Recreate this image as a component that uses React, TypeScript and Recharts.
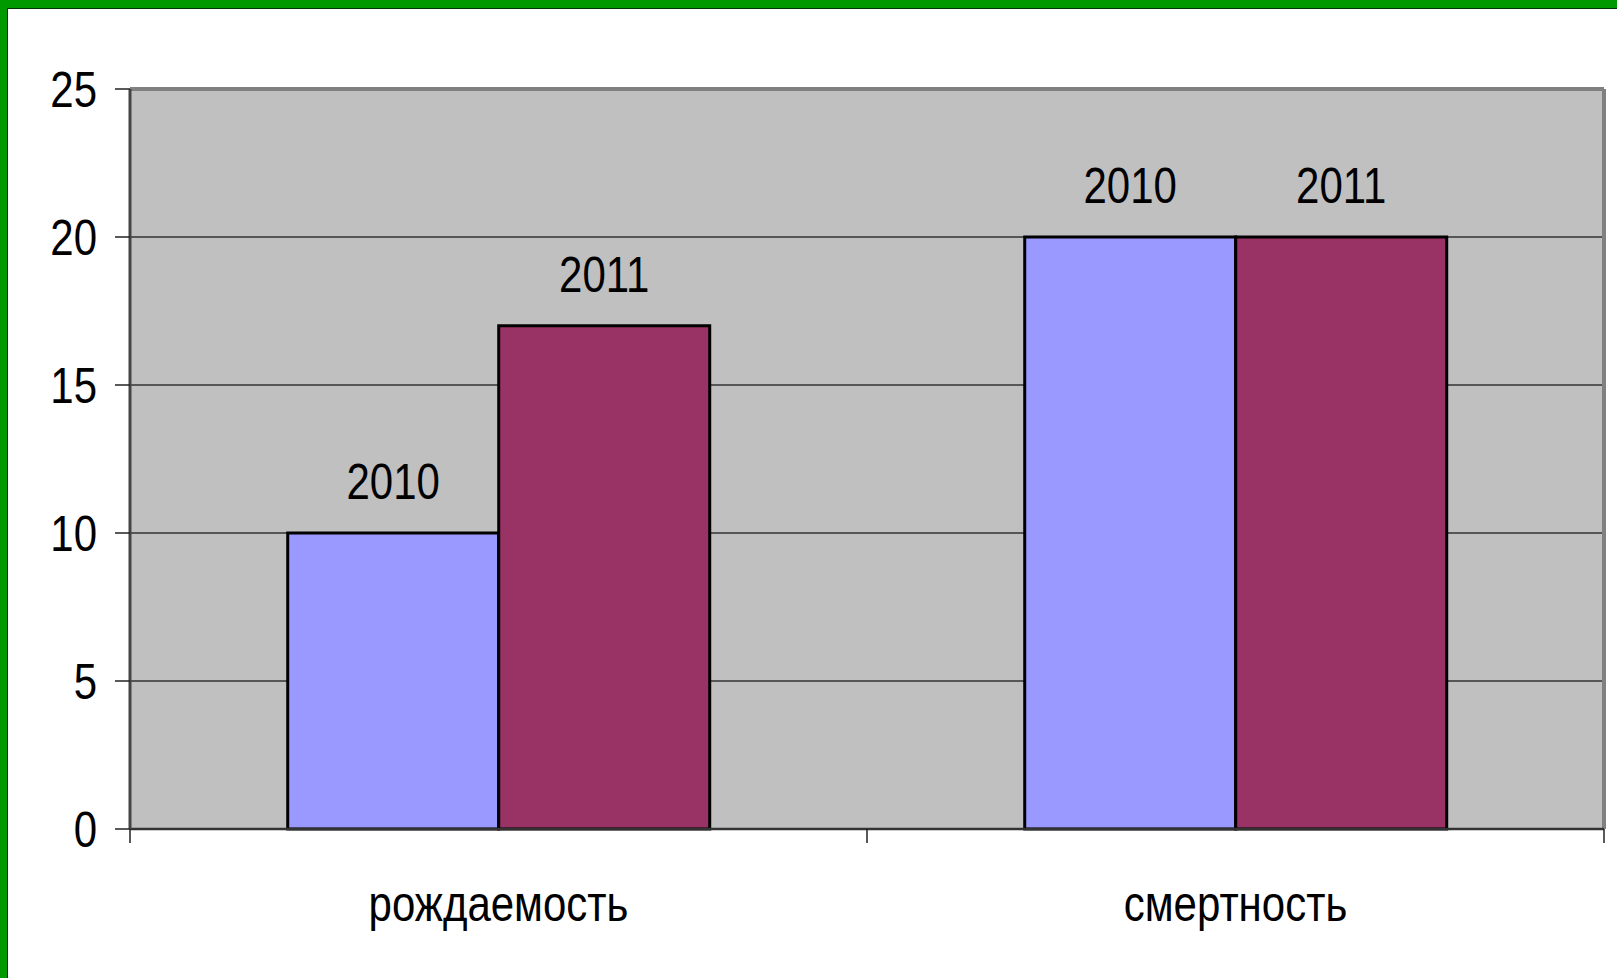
import React from "react";
import {
  BarChart,
  Bar,
  XAxis,
  YAxis,
  CartesianGrid,
  LabelList,
  ReferenceLine,
} from "recharts";

// categories and series
const categories = ["рождаемость", "смертность"];
const values2010 = [10, 20];
const values2011 = [17, 20];
const yTicks = [0, 5, 10, 15, 20, 25];

const data = categories.map((name, i) => ({
  name,
  y2010: values2010[i],
  y2011: values2011[i],
}));

const FONT = '"Liberation Sans", Arial, sans-serif';
// the original font is a condensed Arial, squeeze it horizontally
const SQUEEZE = 0.84;

const NarrowText = ({ x, y, anchor = "middle", children }: any) => (
  <text
    transform={`translate(${x},${y}) scale(${SQUEEZE},1)`}
    textAnchor={anchor}
    fontSize={50}
    fontFamily={FONT}
    fill="#000"
  >
    {children}
  </text>
);

const CategoryTick = (props: any) => {
  const { x, y, payload, index } = props;
  const half = payload && payload.offset ? payload.offset : 368.5;
  return (
    <g>
      {index === 0 && (
        <line x1={x - half} y1={y - 8} x2={x - half} y2={y + 6} stroke="#222" strokeWidth={1.5} />
      )}
      <line x1={x + half} y1={y - 8} x2={x + half} y2={y + 6} stroke="#222" strokeWidth={1.5} />
      <NarrowText x={x} y={y + 84}>{payload.value}</NarrowText>
    </g>
  );
};

const ValueTick = (props: any) => {
  const { x, y, payload } = props;
  return (
    <NarrowText x={x + 2} y={y + 18} anchor="end">
      {payload.value}
    </NarrowText>
  );
};

const seriesLabel = (name: string) => (props: any) => {
  const { x, y, width } = props;
  return (
    <NarrowText x={x + width / 2} y={y - 34}>
      {name}
    </NarrowText>
  );
};

export default function App() {
  return (
    <div
      style={{
        position: "fixed",
        left: 0,
        top: 0,
        width: 1617,
        height: 978,
        background: "#009900",
        overflow: "hidden",
      }}
    >
      <div
        style={{
          position: "absolute",
          left: 7,
          top: 8,
          right: 0,
          bottom: 0,
          background: "#fff",
          borderTop: "1px solid #003300",
          borderLeft: "1px solid #003300",
        }}
      />
      <div style={{ position: "absolute", left: 0, top: 0 }}>
        <BarChart
          width={1617}
          height={978}
          data={data}
          margin={{ top: 89, right: 13, bottom: 0, left: 0 }}
          barCategoryGap="21.4%"
          barGap={0}
        >
          <CartesianGrid
            vertical={false}
            fill="#C0C0C0"
            stroke="#333"
            strokeWidth={1.5}
            fillOpacity={1}
          />
          <XAxis
            dataKey="name"
            height={149}
            tickLine={false}
            axisLine={{ stroke: "#333", strokeWidth: 2.5 }}
            tick={<CategoryTick />}
            interval={0}
          />
          <YAxis
            width={130}
            domain={[0, 25]}
            ticks={yTicks}
            interval={0}
            tickSize={15}
            tickMargin={20}
            tickLine={{ stroke: "#222", strokeWidth: 1.5 }}
            axisLine={{ stroke: "#444", strokeWidth: 3 }}
            tick={<ValueTick />}
          />
          <ReferenceLine y={25} stroke="#808080" strokeWidth={4} />
          <ReferenceLine x="смертность" position="end" stroke="#808080" strokeWidth={4} />
          <Bar dataKey="y2010" fill="#9999FF" stroke="#000" strokeWidth={3} isAnimationActive={false}>
            <LabelList content={seriesLabel("2010")} />
          </Bar>
          <Bar dataKey="y2011" fill="#993366" stroke="#000" strokeWidth={3} isAnimationActive={false}>
            <LabelList content={seriesLabel("2011")} />
          </Bar>
        </BarChart>
      </div>
    </div>
  );
}
